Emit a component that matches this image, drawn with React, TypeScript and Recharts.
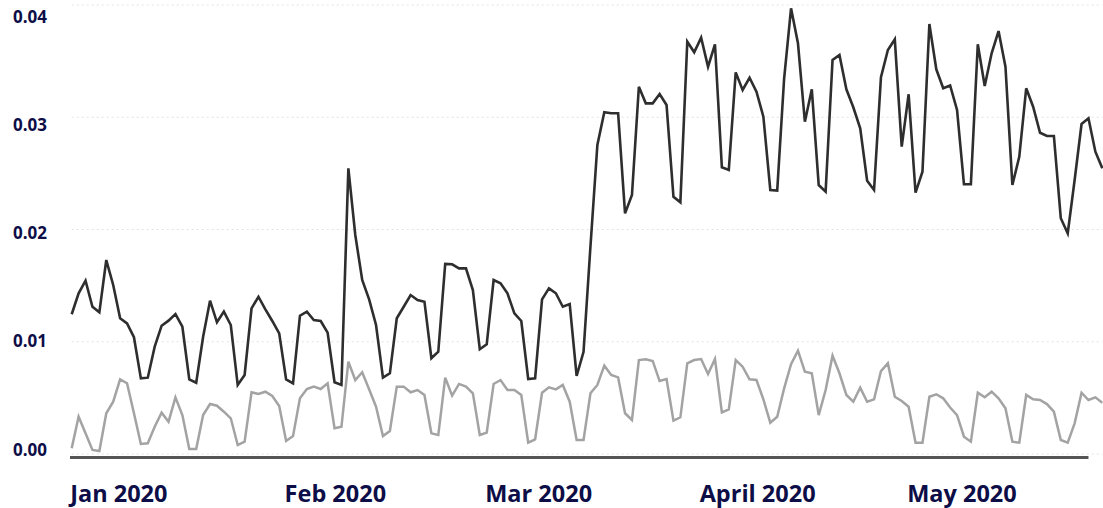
import React from 'react';
import { LineChart, Line, XAxis, YAxis, CartesianGrid, ReferenceLine } from 'recharts';

// Daily values from 1 Jan 2020 (index 0) onward
const darkSeries = [
  0.01245, 0.01432, 0.01544, 0.01312, 0.01262, 0.01728, 0.01506, 0.01209, 0.01164, 0.0104,
  0.00674, 0.0068, 0.00956, 0.01143, 0.01188, 0.01247, 0.01134, 0.00665, 0.00635, 0.01045,
  0.01366, 0.01173, 0.01268, 0.01149, 0.00615, 0.00704, 0.01298, 0.01401, 0.01289, 0.01185,
  0.01075, 0.00665, 0.0063, 0.01232, 0.01268, 0.01194, 0.01185, 0.01081, 0.00639, 0.00615,
  0.02545, 0.01951, 0.0155, 0.01378, 0.01149, 0.0068, 0.00719, 0.01209, 0.01312, 0.01416,
  0.01372, 0.01357, 0.00853, 0.00911, 0.01693, 0.0169, 0.01654, 0.01654, 0.01461, 0.00933,
  0.00977, 0.0155, 0.01521, 0.01432, 0.01253, 0.01185, 0.00668, 0.00674, 0.01378, 0.01476,
  0.01432, 0.01312, 0.01336, 0.00695, 0.00911, 0.0185, 0.02753, 0.03044, 0.03035, 0.03035,
  0.02144, 0.02307, 0.03272, 0.03124, 0.03124, 0.03207, 0.03109, 0.02292, 0.02242, 0.03673,
  0.03579, 0.03709, 0.0345, 0.0365, 0.02554, 0.0253, 0.034, 0.03243, 0.03352, 0.03228,
  0.03005, 0.02352, 0.02346, 0.03345, 0.03971, 0.03659, 0.0296, 0.03249, 0.02396, 0.02337,
  0.0351, 0.03555, 0.03249, 0.03089, 0.02901, 0.02435, 0.02352, 0.03356, 0.03599, 0.03694,
  0.02738, 0.03205, 0.02328, 0.02515, 0.03831, 0.03427, 0.03258, 0.03283, 0.03065, 0.02403,
  0.02403, 0.0365, 0.03278, 0.0357, 0.03768, 0.0345, 0.02396, 0.02649, 0.03258, 0.03094,
  0.02862, 0.02833, 0.02833, 0.021, 0.01966, 0.02441, 0.0294, 0.02991, 0.02693, 0.02545,
];

const graySeries = [
  0.00051, 0.00332, 0.00184, 0.00036, 0.00027, 0.00363, 0.00466, 0.00665, 0.0063, 0.00363,
  0.00089, 0.00095, 0.00243, 0.00368, 0.00288, 0.00505, 0.00347, 0.00045, 0.00045, 0.00347,
  0.00445, 0.0043, 0.00377, 0.00318, 0.0008, 0.0011, 0.0055, 0.00535, 0.00555, 0.00517,
  0.00428, 0.00116, 0.0016, 0.00496, 0.00579, 0.006, 0.00579, 0.0063, 0.00229, 0.00243,
  0.00822, 0.00659, 0.00728, 0.00576, 0.00421, 0.0016, 0.00205, 0.006, 0.006, 0.0055,
  0.0057, 0.00526, 0.00184, 0.00169, 0.0068, 0.0052, 0.00624, 0.006, 0.00541, 0.00169,
  0.0019, 0.00624, 0.00659, 0.0057, 0.0057, 0.00526, 0.00101, 0.00131, 0.00546, 0.00594,
  0.00576, 0.00615, 0.00466, 0.00125, 0.00125, 0.00541, 0.00615, 0.00787, 0.00704, 0.00682,
  0.00363, 0.00303, 0.00837, 0.00844, 0.00829, 0.0065, 0.00668, 0.00297, 0.00327, 0.00808,
  0.00837, 0.00846, 0.00713, 0.00846, 0.00371, 0.00398, 0.00837, 0.00778, 0.00665, 0.00659,
  0.00487, 0.00279, 0.00332, 0.00585, 0.008, 0.0092, 0.00733, 0.00719, 0.00347, 0.0057,
  0.00876, 0.00719, 0.00526, 0.00466, 0.00591, 0.00466, 0.00487, 0.00739, 0.00808, 0.0051,
  0.00472, 0.00421, 0.00101, 0.00101, 0.0051, 0.00532, 0.00496, 0.00414, 0.00347, 0.00154,
  0.0011, 0.00546, 0.00505, 0.00555, 0.00496, 0.00407, 0.0011, 0.00101, 0.00526, 0.00487,
  0.00481, 0.00445, 0.00377, 0.00125, 0.00101, 0.00273, 0.00546, 0.00481, 0.00505, 0.00457,
];

const monthTickDays = [0, 31, 60, 91, 121];
const monthTickLabels = ['Jan 2020', 'Feb 2020', 'Mar 2020', 'April 2020', 'May 2020'];
const yTicks = [0, 0.01, 0.02, 0.03, 0.04];

const data = darkSeries.map((v, i) => ({ day: i, dark: v, gray: graySeries[i] }));

const NAVY = '#0d0d47';
const FONT = "'Open Sans', 'Noto Sans', sans-serif";

const XTick = (props: any) => {
  const { x, y, payload } = props;
  const idx = monthTickDays.indexOf(payload.value);
  return (
    <text x={x - 1.5} y={y} dy={48} textAnchor="start" fill={NAVY} fontFamily={FONT} fontWeight={700} fontSize={23.5}>
      {monthTickLabels[idx]}
    </text>
  );
};

const YTick = (props: any) => {
  const { y, payload } = props;
  const off = -4.6 + 4.07 * (payload.value / 0.01);
  return (
    <text x={13} y={y + off} dy="0.36em" textAnchor="start" fill={NAVY} fontFamily={FONT} fontWeight={700} fontSize={17}>
      {Number(payload.value).toFixed(2)}
    </text>
  );
};

const AxisBaseline = (p: any) => (
  <line x1={p.x1 - 1.7} y1={p.y1 + 3.5} x2={p.x2} y2={p.y2 + 3.5} stroke="#555555" strokeWidth={3} />
);

export default function App() {
  return (
    <div style={{ position: 'absolute', left: 0, top: 0, width: 1103, height: 508, overflow: 'hidden', background: '#ffffff' }}>
      <LineChart width={1103} height={508} data={data} margin={{ top: 5, right: 0.7, left: 11.7, bottom: 14 }}>
        <CartesianGrid vertical={false} stroke="#e2e2e2" strokeDasharray="2 3" />
        <XAxis
          type="number"
          dataKey="day"
          domain={[0, 149]}
          ticks={monthTickDays}
          interval={0}
          tickSize={0}
          tickMargin={0}
          axisLine={false}
          tickLine={false}
          height={40}
          tick={<XTick />}
        />
        <YAxis
          type="number"
          domain={[0, 0.04]}
          ticks={yTicks}
          interval={0}
          width={60}
          axisLine={false}
          tickLine={false}
          tick={<YTick />}
        />
        <ReferenceLine segment={[{ x: 0, y: 0 }, { x: 147, y: 0 }]} ifOverflow="visible" shape={AxisBaseline} />
        <Line type="linear" dataKey="gray" stroke="#a3a3a3" strokeWidth={2.5} dot={false} activeDot={false} isAnimationActive={false} />
        <Line type="linear" dataKey="dark" stroke="#2e2e2e" strokeWidth={2.6} dot={false} activeDot={false} isAnimationActive={false} />
      </LineChart>
    </div>
  );
}
